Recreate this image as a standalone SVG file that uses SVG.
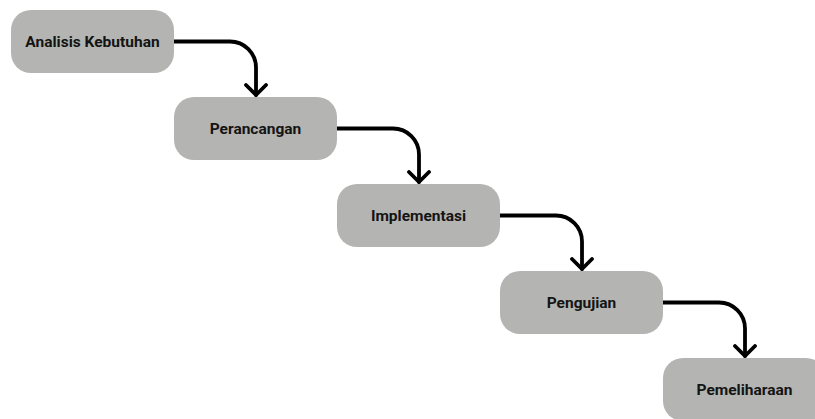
<svg xmlns="http://www.w3.org/2000/svg" width="815" height="419" viewBox="0 0 815 419">
<style>
.box{fill:#b4b4b2;}
.lbl{font-family:Roboto,"Liberation Sans",sans-serif;font-weight:bold;font-size:15.5px;fill:#141414;text-anchor:middle;dominant-baseline:central;}
.con{fill:none;stroke:#000;stroke-width:3.8;stroke-linecap:round;stroke-linejoin:round;}
</style>
<defs>
<marker id="ah" viewBox="0 0 14 24" refX="12" refY="12" markerWidth="14" markerHeight="24" markerUnits="userSpaceOnUse" orient="auto">
<path d="M2,2 L12,12 L2,22" fill="none" stroke="#000" stroke-width="3.8" stroke-linecap="round" stroke-linejoin="round"/>
</marker>
</defs>
<rect width="815" height="419" fill="#fff"/>
<g id="connectors">
<path class="con" d="M174,41.5 H230 A26,26 0 0 1 256,67.5 V95" marker-end="url(#ah)"/>
<path class="con" d="M337,128.5 H393 A26,26 0 0 1 419,154.5 V182" marker-end="url(#ah)"/>
<path class="con" d="M500,215.5 H556 A26,26 0 0 1 582,241.5 V269" marker-end="url(#ah)"/>
<path class="con" d="M663,302.5 H719 A26,26 0 0 1 745,328.5 V356" marker-end="url(#ah)"/>
</g>
<g id="n1"><rect class="box" x="11" y="10" width="163" height="63" rx="20"/><text class="lbl" x="92.5" y="41.5">Analisis Kebutuhan</text></g>
<g id="n2"><rect class="box" x="174" y="97" width="163" height="63" rx="20"/><text class="lbl" x="255.5" y="128.5">Perancangan</text></g>
<g id="n3"><rect class="box" x="337" y="184" width="163" height="63" rx="20"/><text class="lbl" x="418.5" y="215.5">Implementasi</text></g>
<g id="n4"><rect class="box" x="500" y="271" width="163" height="63" rx="20"/><text class="lbl" x="581.5" y="302.5">Pengujian</text></g>
<g id="n5"><rect class="box" x="663" y="358" width="163" height="63" rx="20"/><text class="lbl" x="744.5" y="389.5">Pemeliharaan</text></g>
</svg>
